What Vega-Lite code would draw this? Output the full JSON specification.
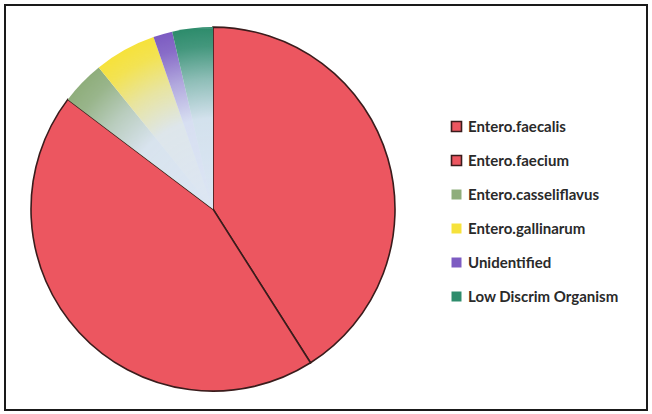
{
  "$schema": "https://vega.github.io/schema/vega-lite/v6.json",
  "autosize": "none",
  "width": 642,
  "height": 405,
  "padding": {"left": 5, "top": 5, "right": 5, "bottom": 4},
  "background": "white",
  "config": {
    "view": {"stroke": null},
    "font": "Lato"
  },
  "data": {
    "values": [
      {"category": "Entero.faecalis", "value": 41.0},
      {"category": "Entero.faecium", "value": 44.3},
      {"category": "Entero.casseliflavus", "value": 3.9},
      {"category": "Entero.gallinarum", "value": 5.5},
      {"category": "Unidentified", "value": 1.7},
      {"category": "Low Discrim Organism", "value": 3.6}
    ]
  },
  "transform": [
    {"stack": "value", "groupby": [], "as": ["v0", "v1"]}
  ],
  "layer": [
    {
      "mark": {
        "type": "arc",
        "x": {"expr": "width*0.324"},
        "y": {"expr": "height*0.504"},
        "outerRadius": 182,
        "strokeWidth": 1.6
      },
      "encoding": {
        "theta": {"field": "v0", "type": "quantitative", "scale": {"domain": [0, 100]}},
        "theta2": {"field": "v1"},
        "color": {
          "field": "category",
          "type": "nominal",
          "scale": {
            "domain": ["Entero.faecalis", "Entero.faecium", "Entero.casseliflavus", "Entero.gallinarum", "Unidentified", "Low Discrim Organism"],
            "range": ["#ec5660", "#ec5660", "#8fae7c", "#f6e23c", "#7d5cc2", "#2e8c6c"]
          },
          "legend": {
            "title": null,
            "orient": "none",
            "legendX": 444,
            "legendY": 114,
            "symbolType": "square",
            "symbolSize": 100,
            "symbolStrokeWidth": 1.6,
            "labelFont": "Lato",
            "labelFontSize": 15,
            "labelFontWeight": "bold",
            "labelColor": "#2a2a2a",
            "labelLimit": 300,
            "rowPadding": 17,
            "labelOffset": 4
          }
        },
        "stroke": {
          "field": "category",
          "type": "nominal",
          "scale": {
            "domain": ["Entero.faecalis", "Entero.faecium", "Entero.casseliflavus", "Entero.gallinarum", "Unidentified", "Low Discrim Organism"],
            "range": ["#3a1c1c", "#3a1c1c", "rgba(0,0,0,0)", "rgba(0,0,0,0)", "rgba(0,0,0,0)", "rgba(0,0,0,0)"]
          },
          "legend": {
            "title": null,
            "orient": "none",
            "legendX": 444,
            "legendY": 114,
            "symbolType": "square",
            "symbolSize": 100,
            "symbolStrokeWidth": 1.6,
            "labelFont": "Lato",
            "labelFontSize": 15,
            "labelFontWeight": "bold",
            "labelColor": "#2a2a2a",
            "labelLimit": 300,
            "rowPadding": 17,
            "labelOffset": 4
          }
        }
      }
    },
    {
      "transform": [
        {"filter": "datum.category != 'Entero.faecalis' && datum.category != 'Entero.faecium'"},
        {"aggregate": [{"op": "min", "field": "v0", "as": "s"}, {"op": "max", "field": "v1", "as": "e"}]}
      ],
      "mark": {
        "type": "arc",
        "x": {"expr": "width*0.324"},
        "y": {"expr": "height*0.504"},
        "outerRadius": 181,
        "color": {
          "gradient": "radial",
          "x1": 0.8985, "y1": 1, "r1": 0,
          "x2": 0.8985, "y2": 1, "r2": 1,
          "stops": [
            {"offset": 0, "color": "rgba(220,230,244,1)"},
            {"offset": 0.5, "color": "rgba(220,230,244,0.95)"},
            {"offset": 0.72, "color": "rgba(220,230,244,0.55)"},
            {"offset": 0.9, "color": "rgba(220,230,244,0.12)"},
            {"offset": 1, "color": "rgba(220,230,244,0)"}
          ]
        }
      },
      "encoding": {
        "theta": {"field": "s", "type": "quantitative", "scale": {"domain": [0, 100]}},
        "theta2": {"field": "e"}
      }
    },
    {
      "transform": [
        {"aggregate": [{"op": "count", "as": "n"}]}
      ],
      "mark": {"type": "rect", "fill": "transparent", "stroke": "#1a1a1a", "strokeWidth": 2},
      "encoding": {}
    }
  ]
}
